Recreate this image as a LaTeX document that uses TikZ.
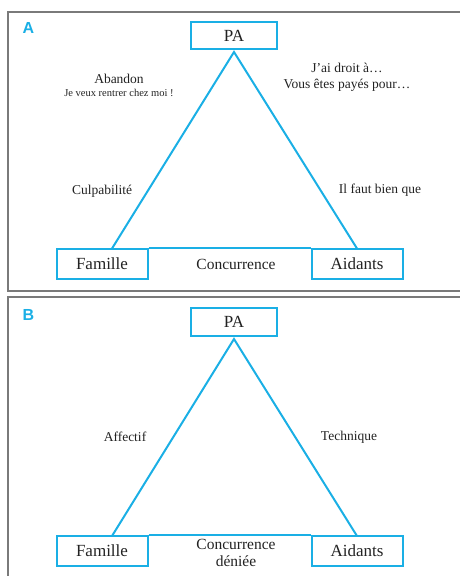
\documentclass[tikz,border=0pt]{standalone}
\usepackage{fontspec}
\setmainfont{Liberation Serif}
\newfontfamily\labfont{Liberation Sans}
\definecolor{cy}{HTML}{1AAFE5}
\definecolor{fr}{HTML}{7A7A7A}
\definecolor{tx}{HTML}{222222}
\begin{document}
\begin{tikzpicture}[x=1pt,y=-1pt,
  boxnode/.style={draw=cy,line width=2pt,minimum width=91pt,minimum height=30pt,inner sep=0pt,text=tx,font=\fontsize{17}{19}\selectfont},
  panelframe/.style={draw=fr,line width=1.5pt},
  edge/.style={draw=cy,line width=2pt},
  side/.style={text=tx,font=\fontsize{13.5}{15}\selectfont,align=center,inner sep=0pt},
  small/.style={text=tx,font=\fontsize{10.5}{12}\selectfont,inner sep=0pt},
  mid/.style={text=tx,font=\fontsize{15.5}{17}\selectfont,align=center,inner sep=0pt},
  panellab/.style={text=cy,font=\labfont\bfseries\fontsize{16}{18}\selectfont,inner sep=0pt}]
\useasboundingbox (0,0) rectangle (460,576);
\clip (0,0) rectangle (460,576);
% Panel A
\draw[panelframe] (8,12) rectangle (470,291);
\node[panellab] (labA) at (28.5,28) {A};
\node[boxnode,minimum width=86pt,minimum height=27pt] (paA) at (234,35.5) {PA};
\node[boxnode] (famA) at (102,263.5) {Famille};
\node[boxnode] (aidA) at (357,263.5) {Aidants};
\coordinate (apA) at (234,52);
\coordinate (lfA) at (112,248.5);
\coordinate (rfA) at (357,248.5);
\draw[edge,line join=miter] (lfA) -- (apA) -- (rfA);
\draw[edge] (famA.north east) -- (aidA.north west);
\node[side] (abandon) at (119,79) {Abandon};
\node[small] (jeveux) at (119,92.5) {Je veux rentrer chez moi !};
\node[side] (droit) at (347,77) {J’ai droit à…\\[1pt]Vous êtes payés pour…};
\node[side] (culp) at (102,191) {Culpabilité};
\node[side] (faut) at (380,190) {Il faut bien que};
\node[mid] (concA) at (236,264) {Concurrence};
% Panel B
\draw[panelframe] (8,297) rectangle (470,590);
\node[panellab] (labB) at (28.5,314.5) {B};
\node[boxnode,minimum width=86pt,minimum height=28pt] (paB) at (234,322) {PA};
\node[boxnode] (famB) at (102,551) {Famille};
\node[boxnode] (aidB) at (357,551) {Aidants};
\coordinate (apB) at (234,339);
\coordinate (lfB) at (112,536);
\coordinate (rfB) at (357,536);
\draw[edge,line join=miter] (lfB) -- (apB) -- (rfB);
\draw[edge] (famB.north east) -- (aidB.north west);
\node[side] (affectif) at (125,437) {Affectif};
\node[side] (technique) at (349,437) {Technique};
\node[mid] (concB) at (236,553) {Concurrence\\[0pt]déniée};
\end{tikzpicture}
\end{document}
